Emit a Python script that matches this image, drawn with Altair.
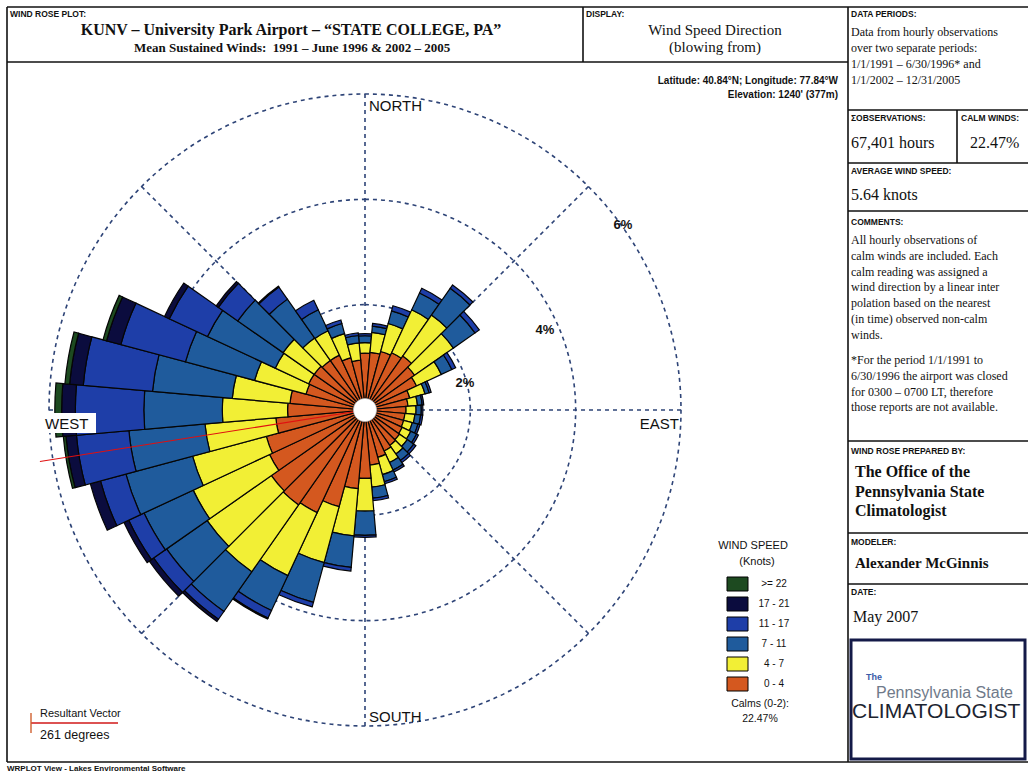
import math
import altair as alt
import pandas as pd

W, H = 1028, 774
CX, CY, R = 365, 410, 316          # rose centre and radius of the 6 % ring (px)
FULL = 6.0

# ---------------- data ----------------
directions = list(range(0, 360, 10))
band_labels = ["0 - 4", "4 - 7", "7 - 11", "11 - 17", "17 - 21", ">= 22"]
band_colors = ["#d4581f", "#f2ef35", "#1f5b9c", "#1e3ea8", "#0b0c3e", "#1d4a20"]

# cumulative outer edge (% of hours) of each speed band, per direction
cum_0_4 = [1.08, 1.10, 1.15, 1.20, 1.25, 1.15, 1.08, 0.88, 0.82, 0.78,
           0.76, 0.76, 0.78, 0.80, 0.82, 0.86, 0.93, 1.05, 1.30, 1.50,
           1.90, 2.15, 2.20, 2.17, 2.00, 1.94, 1.70, 1.47, 1.43, 1.16,
           1.18, 1.18, 1.15, 1.15, 1.03, 0.95]
cum_4_7 = [1.28, 1.48, 1.70, 2.10, 2.20, 2.05, 1.60, 1.18, 1.00, 0.97,
           0.95, 0.93, 0.96, 0.98, 1.02, 1.10, 1.27, 1.47, 1.92, 2.40,
           3.00, 3.47, 3.75, 3.66, 3.60, 3.39, 3.05, 2.71, 2.53, 2.17,
           1.88, 1.90, 1.67, 1.66, 1.50, 1.28]
cum_7_11 = [1.41, 1.60, 1.95, 2.45, 2.82, 2.55, 1.82, 1.26, 1.09, 1.07,
            1.06, 1.04, 1.08, 1.13, 1.17, 1.26, 1.41, 1.68, 2.38, 3.00,
            3.78, 4.20, 4.67, 4.60, 4.63, 4.70, 4.50, 4.20, 4.05, 3.53,
            3.30, 2.95, 2.57, 2.10, 1.70, 1.42]
cum_11_17 = [1.45, 1.65, 2.05, 2.55, 2.90, 2.65, 1.90, 1.30, 1.12, 1.10,
             1.10, 1.08, 1.12, 1.18, 1.22, 1.30, 1.45, 1.73, 2.42, 3.07,
             3.87, 4.36, 4.85, 4.90, 4.95, 5.20, 5.50, 5.50, 5.37, 4.80,
             4.10, 3.40, 2.85, 2.30, 1.77, 1.47]
cum_17_21 = [1.45, 1.65, 2.05, 2.55, 2.90, 2.65, 1.90, 1.30, 1.12, 1.10,
             1.10, 1.08, 1.12, 1.18, 1.22, 1.30, 1.45, 1.73, 2.42, 3.07,
             3.87, 4.38, 4.90, 5.00, 5.05, 5.40, 5.70, 5.76, 5.63, 5.08,
             4.20, 3.45, 2.87, 2.30, 1.77, 1.47]
cum_ge_22 = [1.45, 1.65, 2.05, 2.55, 2.90, 2.65, 1.90, 1.30, 1.12, 1.10,
             1.10, 1.08, 1.12, 1.18, 1.22, 1.30, 1.45, 1.73, 2.42, 3.07,
             3.87, 4.38, 4.90, 5.00, 5.05, 5.40, 5.75, 5.89, 5.72, 5.15,
             4.20, 3.45, 2.87, 2.30, 1.77, 1.47]

grid_levels = [2, 4, 6]
grid_texts = ["2%", "4%", "6%"]
spoke_bearings = [0, 45, 90, 135, 180, 225, 270, 315]
resultant_deg = 261
calm_pct = "22.47%"

# ---------------- build tables ----------------
cums = [cum_0_4, cum_4_7, cum_7_11, cum_11_17, cum_17_21, cum_ge_22]
rows = []
for i, d in enumerate(directions):
    inner = 0.0
    for j, lab in enumerate(band_labels):
        outer = cums[j][i]
        if outer > inner + 1e-9:
            rows.append({"t0": d - 5, "t1": d + 5, "r0": inner, "r1": outer,
                         "band": lab, "order": j})
        inner = max(inner, outer)
bars_df = pd.DataFrame(rows)

tscale = alt.Scale(domain=[0, 360], range=[0, 2 * math.pi])
rscale = alt.Scale(type="linear", domain=[0, FULL], range=[0, R], zero=True)
cscale = alt.Scale(domain=band_labels, range=band_colors)
xs = alt.Scale(domain=[-FULL, FULL], range=[CX - R, CX + R])
ys = alt.Scale(domain=[-FULL, FULL], range=[CY + R, CY - R])

GRID = "#2e4477"
dummy = pd.DataFrame({"a": [0]})

layers = []

# spokes (cartesian, data units = %)
sp = pd.DataFrame({
    "x0": [0.0] * len(spoke_bearings), "y0": [0.0] * len(spoke_bearings),
    "x1": [FULL * math.sin(math.radians(b)) for b in spoke_bearings],
    "y1": [FULL * math.cos(math.radians(b)) for b in spoke_bearings],
})
layers.append(alt.Chart(sp).mark_rule(color=GRID, strokeDash=[4, 4], strokeWidth=1.6).encode(
    x=alt.X("x0:Q", scale=xs, axis=None), y=alt.Y("y0:Q", scale=ys, axis=None),
    x2="x1:Q", y2="y1:Q"))

# grid rings
gdf = pd.DataFrame({"t0": [0] * 3, "t1": [360] * 3, "r": grid_levels})
layers.append(alt.Chart(gdf).mark_arc(fillOpacity=0, stroke=GRID, strokeDash=[4, 4],
                                      strokeWidth=1.6).encode(
    theta=alt.Theta("t0:Q", scale=tscale), theta2="t1:Q",
    radius=alt.Radius("r:Q", scale=rscale),
    x=alt.value(CX), y=alt.value(CY)))

# stacked wind-rose bars
layers.append(alt.Chart(bars_df).mark_arc(stroke="#050505", strokeWidth=1.2).encode(
    theta=alt.Theta("t0:Q", scale=tscale), theta2="t1:Q",
    radius=alt.Radius("r1:Q", scale=rscale), radius2="r0:Q",
    color=alt.Color("band:N", scale=cscale, legend=None),
    x=alt.value(CX), y=alt.value(CY)))

# resultant vector on the rose
rv = pd.DataFrame({"x0": [0.0], "y0": [0.0],
                   "x1": [6.25 * math.sin(math.radians(resultant_deg))],
                   "y1": [6.25 * math.cos(math.radians(resultant_deg))]})
layers.append(alt.Chart(rv).mark_rule(color="#e01010", strokeWidth=1.2).encode(
    x=alt.X("x0:Q", scale=xs, axis=None), y=alt.Y("y0:Q", scale=ys, axis=None),
    x2="x1:Q", y2="y1:Q"))

# calm circle
cdf = pd.DataFrame({"t0": [0], "t1": [360], "r": [0.22]})
layers.append(alt.Chart(cdf).mark_arc(fill="white", stroke="#bbbbbb", strokeWidth=0.6).encode(
    theta=alt.Theta("t0:Q", scale=tscale), theta2="t1:Q",
    radius=alt.Radius("r:Q", scale=rscale),
    x=alt.value(CX), y=alt.value(CY)))


def rect(x, y, x2, y2, **kw):
    return alt.Chart(dummy).mark_rect(**kw).encode(
        x=alt.value(x), x2=alt.value(x2), y=alt.value(y), y2=alt.value(y2))


def rule(x, y, x2, y2, color="#111111", width=1.6):
    return alt.Chart(dummy).mark_rule(color=color, strokeWidth=width).encode(
        x=alt.value(x), x2=alt.value(x2), y=alt.value(y), y2=alt.value(y2))


def txt(x, y, s, size=12, font="Liberation Serif", weight="normal", align="left",
        color="#111111"):
    return alt.Chart(dummy).mark_text(text=s, fontSize=size, font=font, fontWeight=weight,
                                      align=align, baseline="middle", color=color).encode(
        x=alt.value(x), y=alt.value(y))


SANS = "Liberation Sans"
SERIF = "Liberation Serif"

# compass labels
layers.append(rect(40, 413, 96, 433, fill="white"))
layers.append(txt(45, 424, "WEST", 15, SANS))
layers.append(txt(369, 106, "NORTH", 15, SANS))
layers.append(txt(369, 717, "SOUTH", 15, SANS))
layers.append(txt(679, 424, "EAST", 15, SANS, align="right"))
for (px, py), s in zip([(465, 383), (545, 330), (623, 225)], grid_texts):
    layers.append(txt(px, py, s, 13, SANS, "bold", "center"))

# frame
for (x, y, x2, y2) in [(7, 7, 1028, 7), (7, 7, 7, 762), (7, 762, 1028, 762),
                       (7, 62, 848, 62), (583, 7, 583, 62), (848, 7, 848, 762),
                       (848, 110, 1028, 110), (848, 163, 1028, 163), (957, 110, 957, 163),
                       (848, 211, 1028, 211), (848, 441, 1028, 441), (848, 533, 1028, 533),
                       (848, 584, 1028, 584)]:
    layers.append(rule(x, y, x2, y2))
layers.append(rect(851, 640, 1025, 759, fill="white", stroke="#141a48", strokeWidth=3))

# header texts
layers.append(txt(10, 14, "WIND ROSE PLOT:", 8.5, SANS, "bold"))
layers.append(txt(291, 30, "KUNV \u2013 University Park Airport \u2013 \u201cSTATE COLLEGE, PA\u201d",
                  16, SERIF, "bold", "center"))
layers.append(txt(292, 48, "Mean Sustained Winds:\u00a0 1991 \u2013 June 1996 & 2002 \u2013 2005",
                  13, SERIF, "bold", "center"))
layers.append(txt(586, 14, "DISPLAY:", 8.5, SANS, "bold"))
layers.append(txt(715, 30, "Wind Speed Direction", 15, SERIF, align="center"))
layers.append(txt(715, 47, "(blowing from)", 15, SERIF, align="center"))
layers.append(txt(838, 81, "Latitude: 40.84\u00b0N; Longitude: 77.84\u00b0W", 10, SANS, "bold", "right"))
layers.append(txt(838, 95, "Elevation: 1240' (377m)", 10, SANS, "bold", "right"))

# right panel
layers.append(txt(851, 14, "DATA PERIODS:", 8.5, SANS, "bold"))
for k, s in enumerate(["Data from hourly observations", "over two separate periods:",
                       "1/1/1991 \u2013 6/30/1996* and", "1/1/2002 \u2013 12/31/2005"]):
    layers.append(txt(851, 32 + 16 * k, s, 12, SERIF))
layers.append(txt(851, 118, "\u03a3OBSERVATIONS:", 8.5, SANS, "bold"))
layers.append(txt(961, 118, "CALM WINDS:", 8.5, SANS, "bold"))
layers.append(txt(851, 143, "67,401 hours", 16, SERIF))
layers.append(txt(970, 143, calm_pct, 16, SERIF))
layers.append(txt(851, 171, "AVERAGE WIND SPEED:", 8.5, SANS, "bold"))
layers.append(txt(851, 195, "5.64 knots", 16, SERIF))
layers.append(txt(851, 222, "COMMENTS:", 8.5, SANS, "bold"))
comment1 = ["All hourly observations of", "calm winds are included. Each",
            "calm reading was assigned a", "wind direction by a linear inter",
            "polation based on the nearest", "(in time) observed non-calm", "winds."]
comment2 = ["*For the period 1/1/1991 to", "6/30/1996 the airport was closed",
            "for 0300 \u2013 0700 LT, therefore", "those reports are not available."]
for k, s in enumerate(comment1):
    layers.append(txt(851, 240 + 15.8 * k, s, 12, SERIF))
for k, s in enumerate(comment2):
    layers.append(txt(851, 360 + 15.8 * k, s, 12, SERIF))
layers.append(txt(851, 451, "WIND ROSE PREPARED BY:", 8.5, SANS, "bold"))
for k, s in enumerate(["The Office of the", "Pennsylvania State", "Climatologist"]):
    layers.append(txt(855, 472 + 19.5 * k, s, 16, SERIF, "bold"))
layers.append(txt(851, 542, "MODELER:", 8.5, SANS, "bold"))
layers.append(txt(855, 563, "Alexander McGinnis", 15, SERIF, "bold"))
layers.append(txt(851, 592, "DATE:", 8.5, SANS, "bold"))
layers.append(txt(853, 617, "May 2007", 16, SERIF))
layers.append(txt(866, 677, "The", 9, SANS, "bold", color="#3a5ba8"))
layers.append(txt(876, 693, "Pennsylvania State", 16, SANS, color="#6f7a8a"))
layers.append(txt(852, 712, "CLIMATOLOGIST", 21, SANS, color="#1c2430"))

# legend (colours through the same scale as the bars)
leg = pd.DataFrame({"band": band_labels[::-1]})
leg["y0"] = [577 + 20 * k for k in range(len(leg))]
leg["y1"] = leg["y0"] + 14
leg["ym"] = leg["y0"] + 7
layers.append(alt.Chart(leg).mark_rect(stroke="#000000", strokeWidth=1).encode(
    x=alt.value(727), x2=alt.value(748),
    y=alt.Y("y0:Q", scale=None, axis=None), y2="y1:Q",
    color=alt.Color("band:N", scale=cscale, legend=None)))
layers.append(alt.Chart(leg).mark_text(fontSize=10, font=SANS, align="center",
                                       baseline="middle", color="#111").encode(
    x=alt.value(774), y=alt.Y("ym:Q", scale=None, axis=None), text="band:N"))
layers.append(txt(753, 546, "WIND SPEED", 11, SANS, align="center"))
layers.append(txt(757, 562, "(Knots)", 11, SANS, align="center"))
layers.append(txt(760, 704, "Calms (0-2):", 10.5, SANS, align="center"))
layers.append(txt(760, 719, calm_pct, 10.5, SANS, align="center"))

# resultant vector key
layers.append(rule(31, 723, 118, 723, color="#d01818", width=1.4))
layers.append(rule(31, 713, 31, 733, color="#d06030", width=1.4))
layers.append(txt(40, 714, "Resultant Vector", 11, SANS))
layers.append(txt(40, 735, f"{resultant_deg} degrees", 12.5, SANS))

layers.append(txt(7, 769, "WRPLOT View - Lakes Environmental Software", 8, SANS, "bold"))

chart = alt.layer(*layers).resolve_scale(
    x="independent", y="independent", color="independent",
    theta="independent", radius="independent"
).properties(
    width=W, height=H, padding=0, autosize=alt.AutoSizeParams(type="none"),
    background="white"
).configure_view(stroke=None)

chart.save("out.html", embed_options={"renderer": "svg", "actions": False})
